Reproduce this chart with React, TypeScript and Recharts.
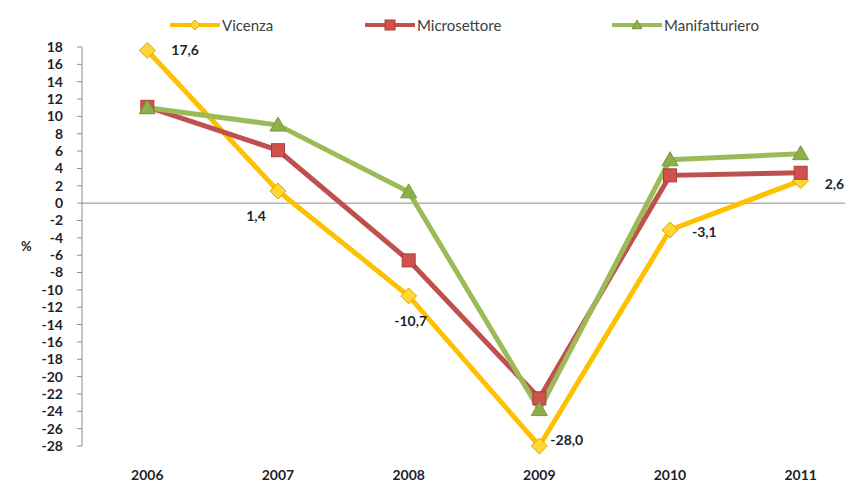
import React from "react";
import { LineChart, Line, XAxis, YAxis, ReferenceLine, Legend, LabelList } from "recharts";

const years = ["2006", "2007", "2008", "2009", "2010", "2011"];
const vicenza = [17.6, 1.4, -10.7, -28.0, -3.1, 2.6];
const microsettore = [11.1, 6.1, -6.6, -22.5, 3.2, 3.5];
const manifatturiero = [11.0, 9.0, 1.3, -23.8, 5.0, 5.7];
const yTicks = [18, 16, 14, 12, 10, 8, 6, 4, 2, 0, -2, -4, -6, -8, -10, -12, -14, -16, -18, -20, -22, -24, -26, -28];

const data = years.map((y, i) => ({
  year: y,
  Vicenza: vicenza[i],
  Microsettore: microsettore[i],
  Manifatturiero: manifatturiero[i],
}));

const YELLOW = "#FFC000";
const RED = "#C0504D";
const GREEN = "#9BBB59";
const FONT = "Lato, 'Liberation Sans', sans-serif";

function Diamond({ cx, cy, r = 7 }: any) {
  return (
    <polygon
      points={`${cx},${cy - r} ${cx + r},${cy} ${cx},${cy + r} ${cx - r},${cy}`}
      fill="#FFD633"
      stroke="#E0A800"
      strokeWidth={1}
    />
  );
}

function Square({ cx, cy, r = 6 }: any) {
  return <rect x={cx - r} y={cy - r} width={r * 2} height={r * 2} fill="#D2514D" stroke="#A83C39" strokeWidth={1} />;
}

function Triangle({ cx, cy, r = 8 }: any) {
  return (
    <polygon
      points={`${cx},${cy - r} ${cx + r},${cy + r * 0.75} ${cx - r},${cy + r * 0.75}`}
      fill="#8DB04C"
      stroke="#77993C"
      strokeWidth={1}
    />
  );
}

// label placement for the Vicenza values
const labelPos = [
  { dx: 24, dy: 5, anchor: "start" },
  { dx: -22, dy: 30, anchor: "middle" },
  { dx: 2, dy: 30, anchor: "middle" },
  { dx: 11, dy: -1, anchor: "start" },
  { dx: 22, dy: 7, anchor: "start" },
  { dx: 24, dy: 8, anchor: "start" },
];

function VicenzaLabel(props: any) {
  const { x, y, value, index } = props;
  const p = labelPos[index];
  return (
    <text x={x + p.dx} y={y + p.dy} textAnchor={p.anchor} fontFamily={FONT} fontSize={14} fontWeight="bold" fill="#1f1f2e">
      {Number(value).toFixed(1).replace(".", ",")}
    </text>
  );
}

function LegendIcon({ color, Marker }: any) {
  return (
    <svg width={50} height={16} style={{ verticalAlign: "middle" }}>
      <line x1={0} y1={8} x2={50} y2={8} stroke={color} strokeWidth={4} />
      <Marker cx={25} cy={8} r={5} />
    </svg>
  );
}

function CustomLegend() {
  const items = [
    { name: "Vicenza", color: YELLOW, Marker: Diamond, left: 162 },
    { name: "Microsettore", color: RED, Marker: Square, left: 357 },
    { name: "Manifatturiero", color: GREEN, Marker: Triangle, left: 604 },
  ];
  return (
    <div style={{ position: "relative", width: 845, height: 20 }}>
      {items.map((it) => (
        <div
          key={it.name}
          style={{ position: "absolute", left: it.left, top: 0, display: "flex", alignItems: "center", fontFamily: FONT, fontSize: 15, color: "#404040" }}
        >
          <LegendIcon color={it.color} Marker={it.Marker} />
          <span style={{ marginLeft: 2 }}>{it.name}</span>
        </div>
      ))}
    </div>
  );
}

export default function App() {
  return (
    <div style={{ width: 845, height: 475, overflow: "hidden", background: "#fff" }}>
      <LineChart width={858} height={475} data={data} margin={{ top: 39, right: 0, bottom: 7, left: 0 }}>
        <XAxis
          dataKey="year"
          scale="band"
          axisLine={false}
          tickLine={false}
          height={30}
          tickMargin={18}
          tick={{ fontFamily: FONT, fontSize: 14, fontWeight: "bold", fill: "#1f1f2e" }}
        />
        <YAxis
          domain={[-28, 18]}
          ticks={yTicks}
          interval={0}
          width={74}
          tickSize={5}
          tickMargin={14}
          axisLine={{ stroke: "#8C8C8C" }}
          tickLine={{ stroke: "#8C8C8C" }}
          tick={{ fontFamily: FONT, fontSize: 14, fontWeight: "bold", fill: "#1f1f2e" }}
          label={{ value: "%", position: "insideLeft", offset: 13, style: { fontFamily: FONT, fontSize: 13, fontWeight: "bold", fill: "#1f1f2e" } }}
        />
        <ReferenceLine y={0} stroke="#8C8C8C" strokeWidth={1} />
        <Legend
          layout="horizontal"
          verticalAlign="middle"
          align="center"
          wrapperStyle={{ top: 8, left: 0, width: 845 }}
          content={() => <CustomLegend />}
        />
        <Line
          dataKey="Vicenza"
          type="linear"
          stroke={YELLOW}
          strokeWidth={5}
          dot={(p: any) => <Diamond key={p.index} cx={p.cx} cy={p.cy} r={8} />}
          activeDot={false}
          isAnimationActive={false}
        >
          <LabelList dataKey="Vicenza" content={VicenzaLabel} />
        </Line>
        <Line
          dataKey="Microsettore"
          type="linear"
          stroke={RED}
          strokeWidth={5}
          dot={(p: any) => <Square key={p.index} cx={p.cx} cy={p.cy} r={6.5} />}
          activeDot={false}
          isAnimationActive={false}
        />
        <Line
          dataKey="Manifatturiero"
          type="linear"
          stroke={GREEN}
          strokeWidth={5}
          dot={(p: any) => <Triangle key={p.index} cx={p.cx} cy={p.cy} r={8} />}
          activeDot={false}
          isAnimationActive={false}
        />
      </LineChart>
    </div>
  );
}
